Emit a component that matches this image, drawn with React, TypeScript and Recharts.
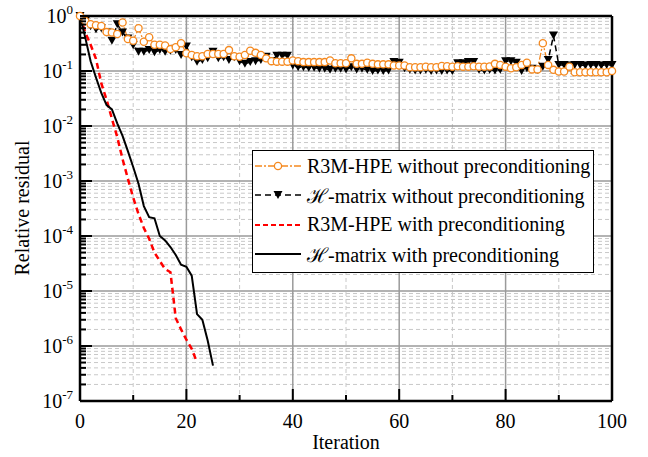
import React from "react";
import { LineChart, Line, XAxis, YAxis, ReferenceLine } from "recharts";

// relative residual per iteration (index = iteration)
const r3mNoPre = [
  1, 0.81, 0.71, 0.68, 0.66, 0.51, 0.5, 0.47, 0.76, 0.38,
  0.355, 0.6, 0.34, 0.41, 0.3, 0.3, 0.29, 0.25, 0.27, 0.32,
  0.21, 0.195, 0.186, 0.186, 0.204, 0.204, 0.204, 0.204, 0.24, 0.186,
  0.182, 0.195, 0.234, 0.214, 0.195, 0.17, 0.151, 0.148, 0.148, 0.148,
  0.155, 0.151, 0.145, 0.145, 0.145, 0.145, 0.145, 0.155, 0.138, 0.138,
  0.138, 0.17, 0.135, 0.135, 0.141, 0.135, 0.132, 0.132, 0.132, 0.126,
  0.126, 0.126, 0.117, 0.117, 0.117, 0.12, 0.117, 0.117, 0.123, 0.122,
  0.12, 0.122, 0.12, 0.12, 0.122, 0.12, 0.12, 0.121, 0.135, 0.129,
  0.12, 0.112, 0.117, 0.129, 0.141, 0.107, 0.107, 0.32, 0.129, 0.105,
  0.098, 0.098, 0.12, 0.095, 0.095, 0.095, 0.095, 0.095, 0.095, 0.095,
  0.1,
];

const hNoPre = [
  1, 0.81, 0.65, 0.575, 0.6, 0.5, 0.355, 0.71, 0.5, 0.39,
  0.295, 0.224, 0.224, 0.24, 0.219, 0.24, 0.224, 0.234, 0.24, 0.195,
  0.28, 0.178, 0.148, 0.158, 0.17, 0.224, 0.17, 0.178, 0.158, 0.178,
  0.151, 0.135, 0.145, 0.151, 0.158, 0.182, 0.151, 0.19, 0.19, 0.19,
  0.126, 0.117, 0.117, 0.115, 0.115, 0.11, 0.11, 0.105, 0.11, 0.11,
  0.107, 0.117, 0.107, 0.11, 0.105, 0.1, 0.102, 0.1, 0.102, 0.145,
  0.141, 0.112, 0.105, 0.102, 0.102, 0.105, 0.1, 0.102, 0.1, 0.102,
  0.1, 0.138, 0.138, 0.145, 0.145, 0.105, 0.102, 0.105, 0.102, 0.105,
  0.151, 0.151, 0.141, 0.1, 0.112, 0.11, 0.105, 0.12, 0.158, 0.44,
  0.129, 0.129, 0.126, 0.129, 0.129, 0.126, 0.129, 0.129, 0.126, 0.129,
  0.129,
];

const r3mPre = [
  1, 0.5, 0.3, 0.166, 0.06, 0.03, 0.0135, 0.0063, 0.0025, 0.0011,
  5.0e-4, 2.5e-4, 1.4e-4, 8.9e-5, 5.0e-5, 3.5e-5, 2.5e-5, 2.2e-5, 3.2e-6, 2.0e-6,
  1.3e-6, 8.9e-7, 5.0e-7,
];

const hPre = [
  1, 0.4, 0.15, 0.076, 0.04, 0.024, 0.02, 0.0112, 0.0066, 0.0035,
  0.0018, 8.9e-4, 3.5e-4, 2.2e-4, 2.1e-4, 1.0e-4, 8.3e-5, 6.3e-5, 4.5e-5, 3.0e-5,
  2.75e-5, 1.9e-5, 3.8e-6, 3.0e-6, 1.26e-6, 4.4e-7,
];

const xMajor = [0, 20, 40, 60, 80, 100];
const xMinor = [10, 30, 50, 70, 90];
const yExponents = [0, -1, -2, -3, -4, -5, -6, -7];
const minorMult = [2, 3, 4, 5, 6, 7, 8, 9];

const seriesNames = [
  "R3M-HPE without preconditioning",
  "\u210B-matrix without preconditioning",
  "R3M-HPE with preconditioning",
  "\u210B-matrix with preconditioning",
];

const yMajor = yExponents.map((e) => Math.pow(10, e));
const yMinor = yExponents
  .filter((e) => e < 0)
  .flatMap((e) => minorMult.map((m) => m * Math.pow(10, e)));

const data = r3mNoPre.map((v, i) => ({
  it: i,
  r3mNoPre: v,
  hNoPre: hNoPre[i],
  r3mPre: r3mPre[i],
  hPre: hPre[i],
}));

const W = 648;
const H = 457;
const LEFT = 80;
const TOP = 16;
const RIGHT = 612;
const BOTTOM = 401;
const FONT = '"Liberation Serif", "Times New Roman", "DejaVu Serif", serif';
const ORANGE = "#f5891f";

const YTick = (props: any) => {
  const { y, payload } = props;
  const lg = Math.log10(payload.value);
  const e = Math.round(lg);
  const major = Math.abs(lg - e) < 1e-6;
  return (
    <g>
      <line x1={LEFT} x2={LEFT + (major ? 12 : 6)} y1={y} y2={y} stroke="#000" strokeWidth={2} />
      {major && (
        <text x={LEFT - 7} y={y + 7} textAnchor="end" fontFamily={FONT} fontSize={20} fill="#000">
          10
          <tspan dy={-9} fontSize={13}>
            {String(e)}
          </tspan>
        </text>
      )}
    </g>
  );
};

const XTick = (props: any) => {
  const { x, payload } = props;
  const major = payload.value % 20 === 0;
  return (
    <g>
      <line x1={x} x2={x} y1={BOTTOM} y2={BOTTOM - (major ? 12 : 6)} stroke="#000" strokeWidth={2} />
      {major && (
        <text x={x} y={BOTTOM + 27} textAnchor="middle" fontFamily={FONT} fontSize={20} fill="#000">
          {payload.value}
        </text>
      )}
    </g>
  );
};

const CircleDot = (props: any) => {
  const { cx, cy, index } = props;
  if (cx == null || cy == null) return <g key={index} />;
  return <circle key={index} cx={cx} cy={cy} r={3.6} fill="#fff" stroke={ORANGE} strokeWidth={1.3} />;
};

const TriDot = (props: any) => {
  const { cx, cy, index } = props;
  if (cx == null || cy == null) return <g key={index} />;
  return (
    <polygon
      key={index}
      points={`${cx - 4.5},${cy - 4} ${cx + 4.5},${cy - 4} ${cx},${cy + 4}`}
      fill="#000"
    />
  );
};

const LegendBox = () => {
  const rows = [15, 44, 73.5, 103];
  return (
    <div
      style={{
        position: "absolute",
        left: 252,
        top: 150,
        width: 340,
        height: 121,
        border: "1.5px solid #000",
        background: "#fff",
        fontFamily: FONT,
        fontSize: 20,
        color: "#000",
      }}
    >
      {seriesNames.map((name, i) => (
        <div
          key={name}
          style={{ position: "absolute", left: 0, top: rows[i] - 13, height: 26, display: "flex", alignItems: "center", whiteSpace: "nowrap" }}
        >
          <svg width={52} height={26} style={{ display: "block" }}>
            {i === 0 && (
              <>
                <line x1={2} x2={48} y1={13} y2={13} stroke={ORANGE} strokeWidth={1.5} strokeDasharray="7 2 2 2" />
                <circle cx={25} cy={13} r={3.6} fill="#fff" stroke={ORANGE} strokeWidth={1.3} />
              </>
            )}
            {i === 1 && (
              <>
                <line x1={2} x2={48} y1={13} y2={13} stroke="#000" strokeWidth={1.5} strokeDasharray="6 4" />
                <polygon points="20.5,9 29.5,9 25,17" fill="#000" />
              </>
            )}
            {i === 2 && <line x1={2} x2={48} y1={13} y2={13} stroke="#ff0000" strokeWidth={2} strokeDasharray="5 3" />}
            {i === 3 && <line x1={2} x2={48} y1={13} y2={13} stroke="#000" strokeWidth={2} />}
          </svg>
          <span style={{ marginLeft: 2 }}>{name}</span>
        </div>
      ))}
    </div>
  );
};

export default function App() {
  return (
    <div style={{ position: "relative", width: W, height: H, background: "#fff" }}>
      <style>{"body{margin:0;}"}</style>
      <LineChart width={W} height={H} data={data} margin={{ top: TOP, right: W - RIGHT, bottom: 0, left: 0 }}>
        <XAxis
          dataKey="it"
          type="number"
          domain={[0, 100]}
          ticks={[...xMajor, ...xMinor]}
          interval={0}
          tick={<XTick />}
          tickLine={false}
          axisLine={{ stroke: "#000", strokeWidth: 2.5 }}
          height={H - BOTTOM}
          label={{ value: "Iteration", position: "insideBottom", offset: 8, fontFamily: FONT, fontSize: 20, fill: "#000" }}
        />
        <YAxis
          type="number"
          scale="log"
          domain={[1e-7, 1]}
          ticks={[...yMajor, ...yMinor]}
          interval={0}
          tick={<YTick />}
          tickLine={false}
          axisLine={{ stroke: "#000", strokeWidth: 2.5 }}
          width={LEFT}
          label={{
            content: () => (
              <text
                x={22}
                y={208}
                transform="rotate(-90, 22, 208)"
                textAnchor="middle"
                dominantBaseline="central"
                fontFamily={FONT}
                fontSize={20}
                fill="#000"
              >
                Relative residual
              </text>
            ),
          }}
        />
        {yMinor.map((v) => (
          <ReferenceLine key={`ym${v}`} y={v} stroke="#c8c8c8" strokeDasharray="4 3" strokeWidth={1} />
        ))}
        {xMinor.map((v) => (
          <ReferenceLine key={`xm${v}`} x={v} stroke="#c8c8c8" strokeDasharray="4 3" strokeWidth={1} />
        ))}
        {yMajor.slice(1, -1).map((v) => (
          <ReferenceLine key={`yM${v}`} y={v} stroke="#9a9a9a" strokeWidth={1.5} />
        ))}
        {xMajor.slice(1, -1).map((v) => (
          <ReferenceLine key={`xM${v}`} x={v} stroke="#9a9a9a" strokeWidth={1.5} />
        ))}
        <ReferenceLine y={1} stroke="#000" strokeWidth={2.5} />
        <ReferenceLine x={100} stroke="#000" strokeWidth={2.5} />
        <Line
          dataKey="hNoPre"
          stroke="#000"
          strokeWidth={1.5}
          strokeDasharray="6 4"
          dot={<TriDot />}
          isAnimationActive={false}
        />
        <Line
          dataKey="r3mNoPre"
          stroke={ORANGE}
          strokeWidth={1.3}
          strokeDasharray="7 2 2 2"
          dot={<CircleDot />}
          isAnimationActive={false}
        />
        <Line
          dataKey="r3mPre"
          stroke="#ff0000"
          strokeWidth={2.5}
          strokeDasharray="6 4"
          dot={false}
          isAnimationActive={false}
        />
        <Line dataKey="hPre" stroke="#000" strokeWidth={2} dot={false} isAnimationActive={false} />
      </LineChart>
      <LegendBox />
    </div>
  );
}
